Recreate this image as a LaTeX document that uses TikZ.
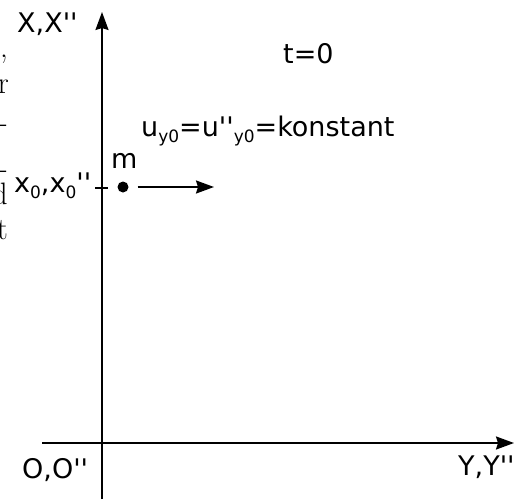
\documentclass[tikz,border=0pt]{standalone}
\usepackage{fontspec}
\setmainfont{DejaVu Sans}[Ligatures=TeXOff]
\newfontfamily\lmfont{Latin Modern Roman}
\usetikzlibrary{arrows.meta}
\newcommand\sbs[1]{\raisebox{-6pt}{\fontsize{17}{17}\selectfont #1}}
\tikzset{
  axis/.style={line width=2pt, -{Stealth[length=18pt,width=13pt,inset=2pt]}},
  lbl/.style={inner sep=0pt, font=\fontsize{27}{32}\selectfont},
  frag/.style={inner sep=0pt, anchor=base east, font=\lmfont\fontsize{31}{37}\selectfont},
}
\begin{document}
\begin{tikzpicture}[x=1pt,y=-1pt]
\useasboundingbox (0,0) rectangle (515,499);
% stray fragments of surrounding text
\node[frag] (f1) at (8,57) {,};
\node[frag] (f2) at (9,93) {r};
\node[frag] (f3) at (8,132) {-};
\node[frag] (f4) at (8,178) {-};
\node[frag] (f5) at (8,204) {d};
\node[frag] (f6) at (8,239) {t};
% axes
\coordinate (ybot) at (102,499);
\coordinate (ytop) at (102,12);
\coordinate (xleft) at (42,443);
\coordinate (xright) at (514,443);
\draw[axis] (ybot) -- (ytop);
\draw[axis] (xleft) -- (xright);
% tick at x0
\coordinate (tl) at (95,188);
\coordinate (tr) at (108,188);
\draw[line width=1.6pt] (tl) -- (tr);
% labels
\node[lbl, anchor=base west] (xlab) at (17,32) {X,X''};
\node[lbl, anchor=base west] (tlab) at (283,63) {t=0};
\node[lbl, anchor=base west] (ulab) at (141,136) {u\sbs{y0}=u''\sbs{y0}=konstant};
\node[lbl, anchor=base west] (mlab) at (111,168) {m};
\node[lbl, anchor=base west] (x0lab) at (14,192) {x\sbs{0},x\sbs{0}''};
\node[lbl, anchor=base west] (olab) at (22,478) {O,O''};
\node[lbl, anchor=base west] (ylab) at (458,475) {Y,Y''};
% mass and velocity
\node[circle, fill=black, inner sep=0pt, minimum size=11pt] (m) at (123,187) {};
\coordinate (vend) at (214,187);
\draw[line width=2pt, -{Stealth[length=18pt,width=13pt,inset=2pt]}] ([xshift=9pt]m.east) -- (vend);
\end{tikzpicture}
\end{document}
